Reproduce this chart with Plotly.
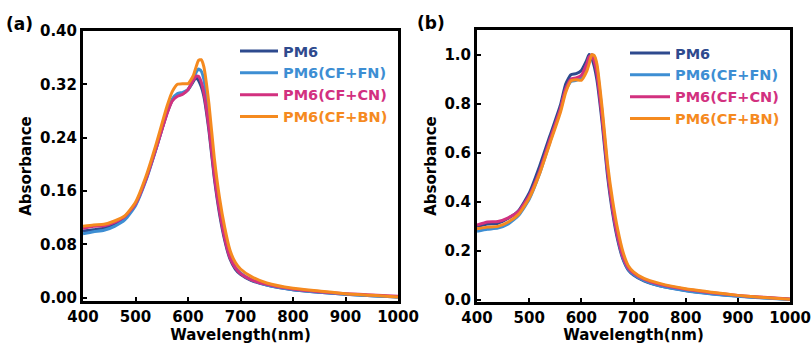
import plotly.graph_objects as go

# ---------------- data ----------------
wavelength = [400, 420, 440, 460, 480, 500, 520, 540, 560, 570, 580, 590, 600, 610, 615,
              620, 625, 630, 640, 650, 660, 670, 680, 690, 700, 720, 750, 800, 850, 900, 950, 1000]

series_names = ["PM6", "PM6(CF+FN)", "PM6(CF+CN)", "PM6(CF+BN)"]
series_colors = ["#2E4A8E", "#3D8ED3", "#D2317F", "#F58A1F"]

# (a) absorbance
abs_pm6 = [0.100, 0.102, 0.104, 0.110, 0.120, 0.140, 0.178, 0.226, 0.277, 0.296, 0.304, 0.306, 0.312, 0.324, 0.330,
           0.326, 0.317, 0.303, 0.250, 0.180, 0.126, 0.086, 0.058, 0.043, 0.035, 0.026, 0.019, 0.012, 0.008, 0.005, 0.003, 0.001]
abs_fn = [0.096, 0.099, 0.101, 0.107, 0.117, 0.138, 0.176, 0.225, 0.278, 0.298, 0.306, 0.308, 0.312, 0.327, 0.337,
          0.343, 0.340, 0.328, 0.270, 0.194, 0.136, 0.093, 0.062, 0.046, 0.037, 0.027, 0.019, 0.012, 0.008, 0.005, 0.003, 0.001]
abs_cn = [0.104, 0.107, 0.108, 0.113, 0.122, 0.141, 0.178, 0.226, 0.276, 0.295, 0.302, 0.305, 0.312, 0.326, 0.332,
          0.332, 0.324, 0.308, 0.254, 0.184, 0.130, 0.089, 0.060, 0.045, 0.036, 0.027, 0.020, 0.013, 0.009, 0.006, 0.004, 0.002]
abs_bn = [0.107, 0.109, 0.110, 0.115, 0.123, 0.143, 0.182, 0.232, 0.287, 0.309, 0.320, 0.321, 0.321, 0.333, 0.345,
          0.356, 0.357, 0.347, 0.290, 0.210, 0.150, 0.105, 0.071, 0.053, 0.043, 0.032, 0.022, 0.014, 0.010, 0.006, 0.0035, 0.001]

# (b) normalized absorbance
norm_pm6 = [0.300, 0.310, 0.313, 0.333, 0.365, 0.435, 0.545, 0.670, 0.795, 0.880, 0.918, 0.922, 0.935, 0.975, 1.000,
            0.985, 0.950, 0.895, 0.720, 0.510, 0.355, 0.242, 0.165, 0.122, 0.102, 0.078, 0.058, 0.039, 0.026, 0.016, 0.009, 0.003]
norm_fn = [0.280, 0.288, 0.293, 0.310, 0.345, 0.410, 0.515, 0.645, 0.775, 0.855, 0.890, 0.895, 0.905, 0.945, 0.975,
           1.000, 0.990, 0.945, 0.760, 0.540, 0.375, 0.255, 0.170, 0.125, 0.105, 0.080, 0.058, 0.038, 0.025, 0.015, 0.008, 0.002]
norm_cn = [0.305, 0.318, 0.320, 0.335, 0.362, 0.425, 0.525, 0.655, 0.780, 0.860, 0.900, 0.905, 0.915, 0.960, 0.990,
           0.998, 0.970, 0.920, 0.740, 0.530, 0.370, 0.255, 0.175, 0.130, 0.110, 0.085, 0.064, 0.044, 0.030, 0.019, 0.011, 0.004]
norm_bn = [0.290, 0.297, 0.300, 0.318, 0.350, 0.415, 0.515, 0.640, 0.765, 0.845, 0.893, 0.897, 0.895, 0.930, 0.963,
           1.000, 0.995, 0.960, 0.780, 0.560, 0.405, 0.285, 0.195, 0.140, 0.115, 0.088, 0.068, 0.046, 0.032, 0.019, 0.010, 0.003]

x_ticks = [400, 500, 600, 700, 800, 900, 1000]
ya_ticks = [0.00, 0.08, 0.16, 0.24, 0.32, 0.40]
yb_ticks = [0.0, 0.2, 0.4, 0.6, 0.8, 1.0]

panel_a = [abs_pm6, abs_fn, abs_cn, abs_bn]
panel_b = [norm_pm6, norm_fn, norm_cn, norm_bn]

# ---------------- figure ----------------
FONT = "DejaVu Sans"
fig = go.Figure()

for name, color, ys in zip(series_names, series_colors, panel_a):
    fig.add_trace(go.Scatter(
        x=wavelength, y=ys, mode="lines", xaxis="x", yaxis="y", legend="legend",
        name=f'<b><span style="color:{color}">{name}</span></b>',
        line=dict(color=color, width=3, shape="spline", smoothing=0.5)))

for name, color, ys in zip(series_names, series_colors, panel_b):
    fig.add_trace(go.Scatter(
        x=wavelength, y=ys, mode="lines", xaxis="x2", yaxis="y2", legend="legend2",
        name=f'<b><span style="color:{color}">{name}</span></b>',
        line=dict(color=color, width=3, shape="spline", smoothing=0.5)))

tickfont = dict(family=FONT, size=15, color="black")
titlefont = dict(family=FONT, size=15, color="black")

def xaxis(domain, anchor):
    return dict(domain=domain, anchor=anchor, range=[400, 1000], tickvals=x_ticks,
                ticktext=[f"<b>{v}</b>" for v in x_ticks], ticks="inside", ticklen=4, tickwidth=2,
                tickcolor="black", showline=True, linewidth=3, linecolor="black", mirror=True,
                showgrid=False, zeroline=False, tickfont=tickfont,
                title=dict(text="<b>Wavelength(nm)</b>", font=titlefont, standoff=2),
                automargin=False)

def yaxis(domain, anchor, rng, vals, fmt):
    return dict(domain=domain, anchor=anchor, range=rng, tickvals=vals,
                ticktext=[f"<b>{v:{fmt}}</b>" for v in vals], ticks="inside", ticklen=4, tickwidth=2,
                tickcolor="black", showline=True, linewidth=3, linecolor="black", mirror=True,
                showgrid=False, zeroline=False, tickfont=tickfont,
                title=dict(text="<b>Absorbance</b>", font=titlefont, standoff=5),
                automargin=False)

W, H = 811, 344

legend_common = dict(font=dict(family=FONT, size=14.5), bgcolor="rgba(0,0,0,0)",
                     borderwidth=0, xanchor="left", yanchor="top", tracegroupgap=0)

fig.update_layout(
    width=W, height=H, margin=dict(l=0, r=0, t=0, b=0),
    paper_bgcolor="white", plot_bgcolor="white",
    xaxis=xaxis([83 / W, 398 / W], "y"),
    yaxis=yaxis([1 - 301 / H, 1 - 31 / H], "x", [-0.005, 0.40], ya_ticks, ".2f"),
    xaxis2=xaxis([477 / W, 790 / W], "y2"),
    yaxis2=yaxis([1 - 302 / H, 1 - 30 / H], "x2", [-0.008, 1.10], yb_ticks, ".1f"),
    legend=dict(x=235 / W, y=1 - 35 / H, itemwidth=38, **legend_common),
    legend2=dict(x=625 / W, y=1 - 37 / H, itemwidth=40, **legend_common),
    showlegend=True,
    annotations=[
        dict(text="<b>(a)</b>", x=4 / W, y=1 - 24 / H, xref="paper", yref="paper",
             xanchor="left", yanchor="middle", showarrow=False,
             font=dict(family=FONT, size=17, color="black")),
        dict(text="<b>(b)</b>", x=415 / W, y=1 - 23 / H, xref="paper", yref="paper",
             xanchor="left", yanchor="middle", showarrow=False,
             font=dict(family=FONT, size=17, color="black")),
    ],
)

fig.write_html("out.html")
